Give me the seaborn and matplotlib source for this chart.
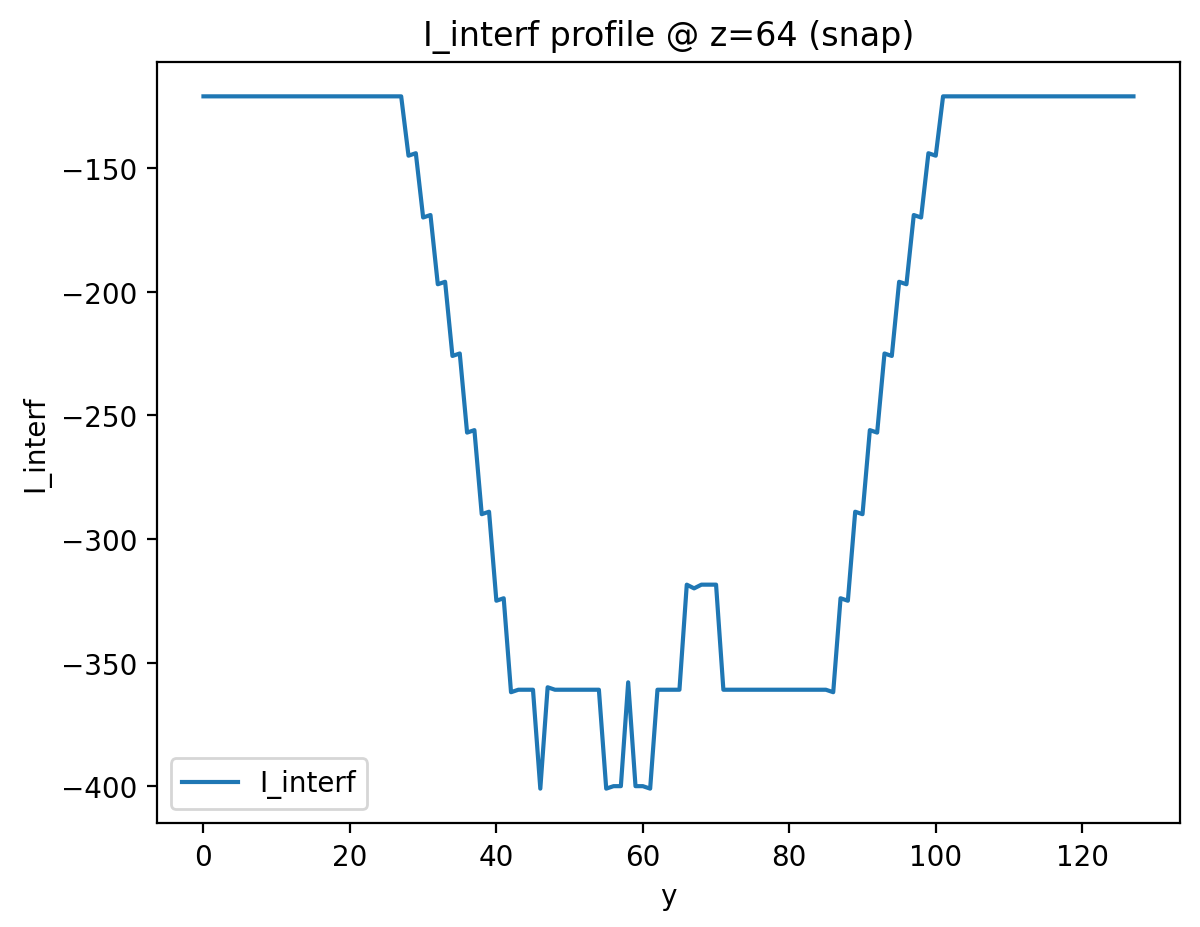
import numpy as np
import pandas as pd
import seaborn as sns
import matplotlib
matplotlib.use("Agg")
import matplotlib.pyplot as plt

# profile values, y = 0..127
y_index = list(range(128))

left_flat = [-121] * 28                       # y = 0..27
left_slope = [-145, -144, -170, -169, -197, -196, -226, -225,
              -257, -256, -290, -289, -325, -324]          # y = 28..41
core = [-362, -361, -361, -361, -401, -360, -361, -361, -361, -361,
        -361, -361, -361, -401, -400, -400, -358, -400, -400, -401,
        -361, -361, -361, -361, -318.5, -320, -318.5, -318.5, -318.5,
        -361, -361, -361, -361, -361, -361, -361, -361, -361, -361,
        -361, -361, -361, -361, -361, -362]                 # y = 42..86
right_slope = [-324, -325, -289, -290, -256, -257, -225, -226,
               -196, -197, -169, -170, -144, -145]          # y = 87..100
right_flat = [-121] * 27                      # y = 101..127

i_interf = left_flat + left_slope + core + right_slope + right_flat

df = pd.DataFrame({"y": y_index, "I_interf": i_interf})

fig, ax = plt.subplots(figsize=(6.0, 4.64), dpi=200)
fig.subplots_adjust(left=0.1308, right=0.9833, top=0.9324, bottom=0.1118)

sns.lineplot(data=df, x="y", y="I_interf", ax=ax, color="#1f77b4",
             linewidth=1.5, label="I_interf")

ax.set_title("I_interf profile @ z=64 (snap)")
ax.set_xlabel("y")
ax.set_ylabel("I_interf")
ax.set_xticks([0, 20, 40, 60, 80, 100, 120])
ax.set_yticks([-400, -350, -300, -250, -200, -150])
ax.legend(loc="lower left")

fig.savefig("out.png", dpi=200)
